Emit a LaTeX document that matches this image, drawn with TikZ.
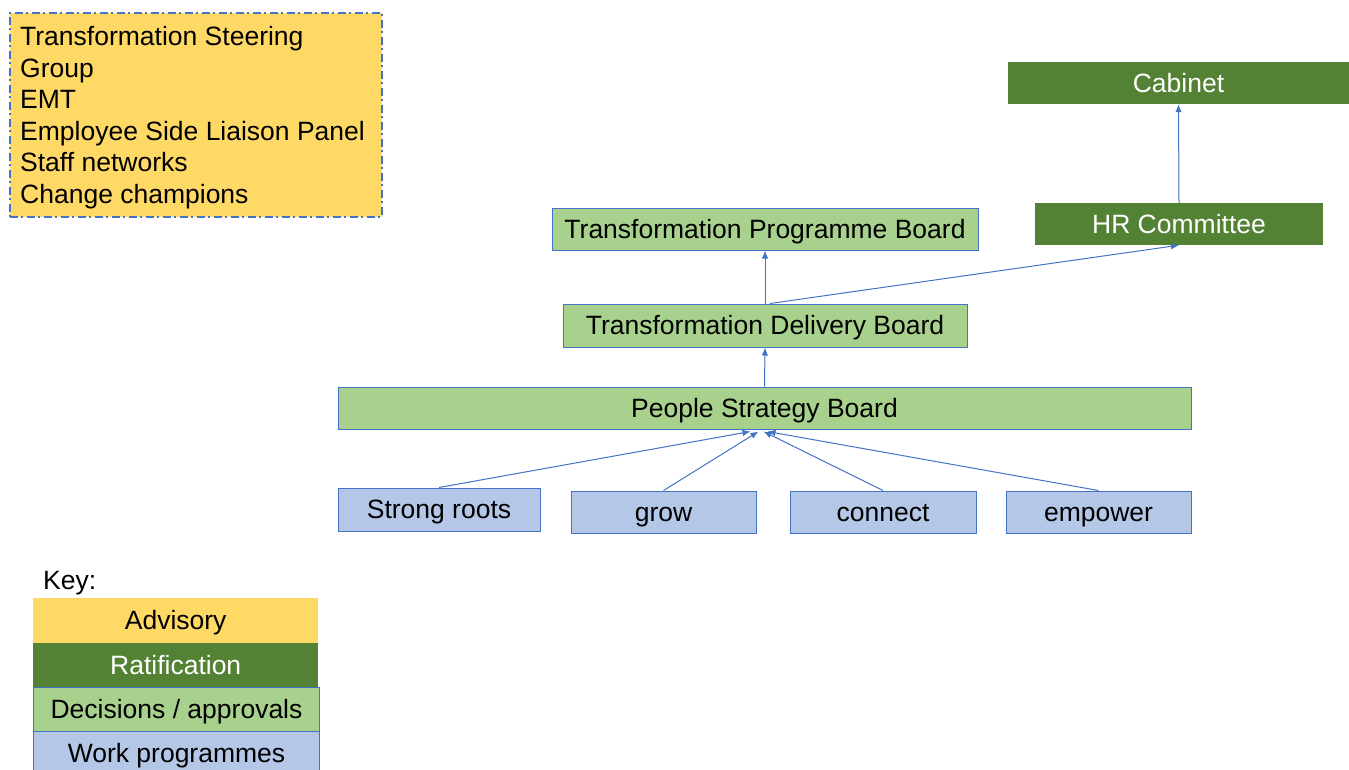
\documentclass[tikz,border=0pt]{standalone}
\usepackage{fontspec}
\setmainfont{Liberation Sans}
\usetikzlibrary{arrows.meta}
\definecolor{advy}{HTML}{FFD966}
\definecolor{ratg}{HTML}{548235}
\definecolor{decg}{HTML}{A9D18E}
\definecolor{workb}{HTML}{B4C7E7}
\definecolor{bordb}{HTML}{4472C4}
\begin{document}
\begin{tikzpicture}[x=1pt,y=-1pt,
  every node/.style={inner sep=0pt, font=\fontsize{26.5}{31.6}\selectfont},
  fixt/.style={text height=20pt, text depth=2pt},
  box/.style={minimum width=#1, minimum height=42pt, anchor=center, fixt},
  dec/.style={fill=decg, draw=bordb, line width=1pt},
  rat/.style={fill=ratg, draw=none, text=white},
  work/.style={fill=workb, draw=bordb, line width=1pt},
  arr/.style={draw=bordb, line width=1pt, -{Latex[length=8pt,width=6.5pt]}}]
\useasboundingbox (0,0) rectangle (1349,769);
% advisory box
\node[fill=advy, draw=bordb, line width=1.6pt, dash pattern=on 8pt off 3.5pt on 2pt off 3.5pt,
      minimum width=372pt, minimum height=204pt, anchor=north west] (adv) at (9,12) {};
\node[anchor=north west, align=left] (advtext) at (20,26)
  {Transformation Steering\\Group\\EMT\\Employee Side Liaison Panel\\Staff networks\\Change champions};
% ratification
\node[rat, box=341pt] (cab) at (1178.5,83) {Cabinet};
\node[rat, box=288pt] (hr) at (1179,224) {HR Committee};
% decisions
\node[dec, box=426pt] (tpb) at (765,229) {Transformation Programme Board};
\node[dec, box=404pt, minimum height=43pt] (tdb) at (765,325.5) {Transformation Delivery Board};
\node[dec, box=853pt] (psb) at (764.5,408) {People Strategy Board};
% work programmes
\node[work, box=202pt, minimum height=43pt] (sr) at (439,509.5) {Strong roots};
\node[work, box=185pt] (gr) at (663.5,512) {grow};
\node[work, box=186pt] (co) at (883,512) {connect};
\node[work, box=185pt] (em) at (1098.5,512) {empower};
% connectors
\draw[arr] (tdb.north) -- (tpb.south);
\draw[arr] ([xshift=5pt]tdb.north) -- (hr.south);
\draw[arr] (psb.north) -- (tdb.south);
\draw[arr] (hr.north) -- (cab.south);
\draw[arr] (sr.north) -- ([xshift=-14pt,yshift=-2pt]psb.south);
\draw[arr] (gr.north) -- ([xshift=-6pt,yshift=-2pt]psb.south);
\draw[arr] (co.north) -- ([xshift=-1pt,yshift=-2pt]psb.south);
\draw[arr] (em.north) -- ([xshift=3pt,yshift=-2pt]psb.south);
% key
\node[anchor=west, fixt] (keylbl) at (43,580) {Key:};
\node[fill=advy, fixt, minimum width=285pt, minimum height=45pt, anchor=north west] (kadv) at (33,598) {Advisory};
\node[rat, fixt, minimum width=285pt, minimum height=44pt, anchor=north west] (krat) at (33,643) {Ratification};
\node[dec, fixt, minimum width=286pt, minimum height=44pt, anchor=north west] (kdec) at (33,687) {Decisions / approvals};
\node[work, fixt, minimum width=286pt, minimum height=44pt, anchor=north west] (kwork) at (33,731) {Work programmes};
\end{tikzpicture}
\end{document}
